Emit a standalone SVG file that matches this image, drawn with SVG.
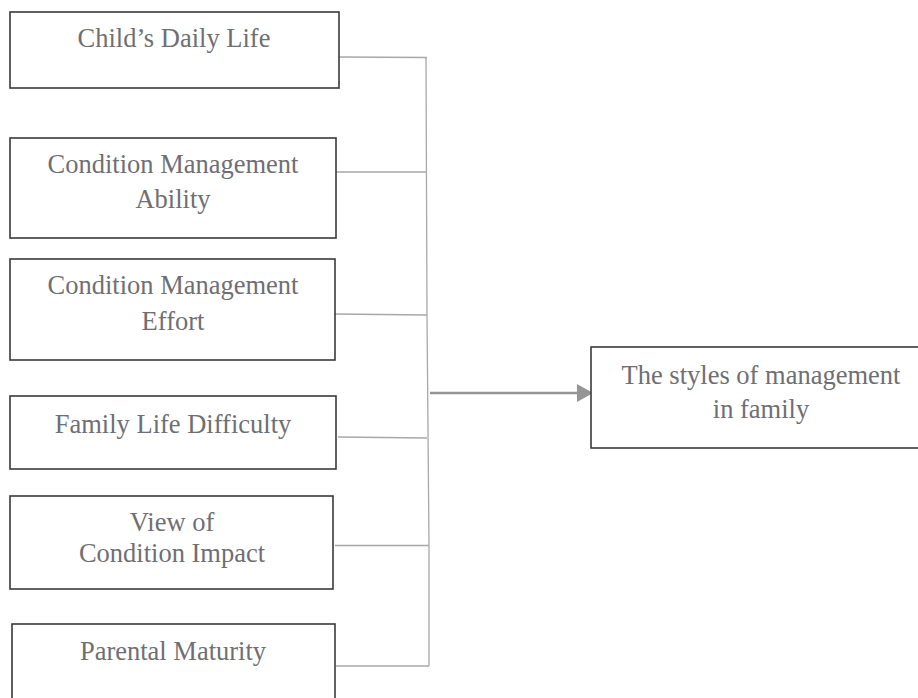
<svg xmlns="http://www.w3.org/2000/svg" width="918" height="698" viewBox="0 0 918 698">
<style>
.box{fill:#fff;stroke:#3a3a3a;stroke-width:1.6}
.t{font-family:"Liberation Serif","Times New Roman",serif;font-size:26.5px;fill:#6f6f73;text-anchor:middle}
.c{fill:none;stroke:#a8a8a8;stroke-width:1.3}
.a{fill:none;stroke:#959595;stroke-width:2.6}
</style>
<defs>
<marker id="ah" markerWidth="16" markerHeight="18" refX="15" refY="9" orient="auto" markerUnits="userSpaceOnUse">
<path d="M0,0 L16,9 L0,18 Z" fill="#959595"/>
</marker>
</defs>
<rect width="918" height="698" fill="#fff"/>
<g id="connectors">
<line class="c" x1="339" y1="57" x2="427" y2="57.5"/>
<line class="c" x1="336" y1="172" x2="427" y2="172"/>
<line class="c" x1="335" y1="314" x2="427" y2="315"/>
<line class="c" x1="338" y1="437" x2="427" y2="438"/>
<line class="c" x1="335" y1="545.5" x2="429" y2="545.5"/>
<line class="c" x1="336" y1="666" x2="429" y2="666"/>
<path class="c" d="M426,57 L427,315 L429,545 L429,666"/>
<line class="a" x1="430" y1="393" x2="592" y2="393" marker-end="url(#ah)"/>
</g>
<g id="n1"><rect class="box" x="10" y="12" width="329" height="76"/><text class="t" x="174" y="47">Child’s Daily Life</text></g>
<g id="n2"><rect class="box" x="10" y="138" width="326" height="100"/><text class="t" x="173" y="173">Condition Management</text><text class="t" x="173" y="208">Ability</text></g>
<g id="n3"><rect class="box" x="10" y="259" width="325" height="101"/><text class="t" x="173" y="294">Condition Management</text><text class="t" x="173" y="330">Effort</text></g>
<g id="n4"><rect class="box" x="10" y="396" width="326" height="73"/><text class="t" x="173" y="433">Family Life Difficulty</text></g>
<g id="n5"><rect class="box" x="10" y="496" width="323" height="93"/><text class="t" x="172" y="531">View of</text><text class="t" x="172" y="562">Condition Impact</text></g>
<g id="n6"><rect class="box" x="12" y="624" width="323" height="90"/><text class="t" x="173" y="660">Parental Maturity</text></g>
<g id="target"><rect class="box" x="591" y="347" width="340" height="101"/><text class="t" x="761" y="384">The styles of management</text><text class="t" x="761" y="418">in family</text></g>
</svg>
